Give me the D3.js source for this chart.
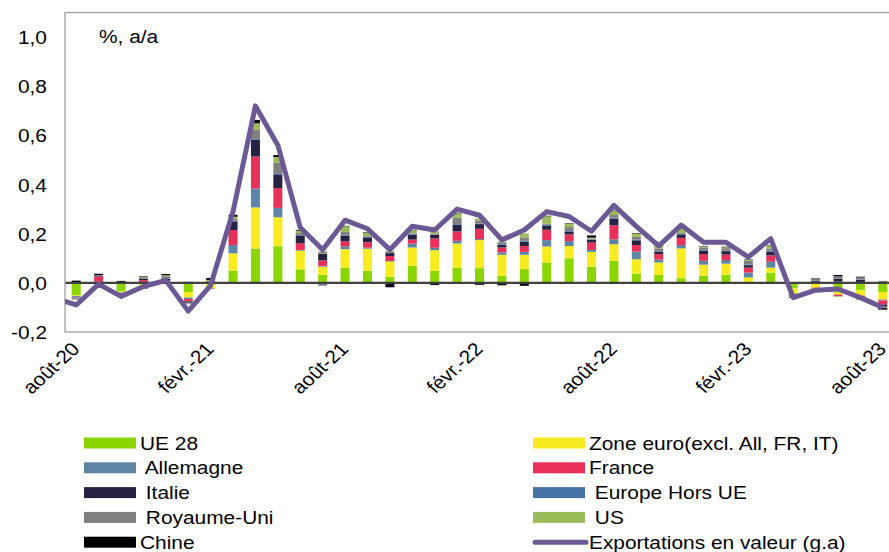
<!DOCTYPE html>
<html>
<head>
<meta charset="utf-8">
<script src="https://cdn.jsdelivr.net/npm/d3@7"></script>
<style>
  body { margin: 0; background: #fff; }
  svg { display: block; font-family: 'Liberation Sans', Arial, sans-serif; }
</style>
</head>
<body>
<div id="chart"></div>
<script>
// Months on the category axis (août-20 .. août-23)
const months = [
  'août-20', 'sept.-20', 'oct.-20', 'nov.-20', 'déc.-20',
  'janv.-21', 'févr.-21', 'mars-21', 'avr.-21', 'mai-21', 'juin-21', 'juil.-21',
  'août-21', 'sept.-21', 'oct.-21', 'nov.-21', 'déc.-21',
  'janv.-22', 'févr.-22', 'mars-22', 'avr.-22', 'mai-22', 'juin-22', 'juil.-22',
  'août-22', 'sept.-22', 'oct.-22', 'nov.-22', 'déc.-22',
  'janv.-23', 'févr.-23', 'mars-23', 'avr.-23', 'mai-23', 'juin-23', 'juil.-23',
  'août-23'
]
const tickMonths = ['août-20', 'févr.-21', 'août-21', 'févr.-22', 'août-22', 'févr.-23', 'août-23']
const yTicks = [-0.2, 0, 0.2, 0.4, 0.6, 0.8, 1.0]

// Contributions (points of %), one array per zone
const ue28 = [-0.05, -0.005, -0.035, -0.005, -0.004, -0.037, -0.003, 0.05, 0.14, 0.149, 0.055, 0.033,
  0.062, 0.049, 0.025, 0.069, 0.049, 0.062, 0.06, 0.029, 0.056, 0.083, 0.1, 0.065,
  0.089, 0.038, 0.033, 0.019, 0.029, 0.033, 0.003, 0.042, -0.022, -0.002, -0.034, -0.03, -0.037]
const zoneEuro = [-0.003, 0.002, -0.004, -0.015, 0.003, -0.023, -0.02, 0.07, 0.167, 0.118, 0.076, 0.033,
  0.075, 0.09, 0.062, 0.075, 0.084, 0.098, 0.114, 0.085, 0.058, 0.065, 0.05, 0.061,
  0.068, 0.058, 0.05, 0.121, 0.045, 0.045, 0.019, 0.02, -0.022, -0.018, -0.014, -0.022, -0.031]
const allemagne = [-0.004, 0.002, -0.002, 0.003, 0.002, -0.006, 0.002, 0.034, 0.077, 0.038, 0.003, 0.003,
  0.012, 0.004, 0.002, 0.016, 0.01, 0.011, 0.004, 0.01, 0.012, 0.026, 0.02, 0.008,
  0.02, 0.031, 0.012, 0.014, 0.016, 0.015, 0.02, 0.024, -0.004, 0.004, 0.005, 0.003, -0.003]
const france = [-0.003, 0.022, -0.002, 0.008, 0.004, -0.01, -0.002, 0.061, 0.13, 0.08, 0.027, 0.022,
  0.02, 0.022, 0.02, 0.016, 0.038, 0.038, 0.042, 0.02, 0.024, 0.042, 0.027, 0.03,
  0.057, 0.027, 0.022, 0.029, 0.027, 0.022, 0.02, 0.026, -0.004, -0.003, -0.006, -0.013, -0.018]
const italie = [0.003, 0.004, 0.003, 0.005, 0.008, -0.005, 0.004, 0.035, 0.068, 0.054, 0.032, 0.027,
  0.022, 0.02, 0.012, 0.019, 0.014, 0.027, 0.019, 0.011, 0.018, 0.016, 0.011, 0.011,
  0.027, 0.019, 0.01, 0.014, 0.014, 0.014, 0.01, 0.015, 0.002, 0.004, 0.012, 0.009, -0.008]
const europeHorsUe = [-0.004, 0.001, 0.001, -0.004, 0.002, -0.002, 0.001, 0.003, 0.003, 0.004, 0.002, 0.002,
  0.003, 0.002, 0.001, 0.003, 0.002, 0.003, 0.002, 0.002, 0.003, 0.004, 0.003, 0.002,
  0.004, 0.003, 0.002, 0.002, 0.003, 0.002, 0.003, 0.003, -0.002, 0.002, 0.002, 0.002, -0.002]
const royaumeUni = [-0.004, 0.001, -0.002, 0.005, 0.008, -0.002, 0.002, 0.008, 0.037, 0.047, 0.008, -0.012,
  0.013, 0.003, 0.004, 0.004, 0.003, 0.026, 0.011, 0.008, 0.014, 0.004, 0.016, 0.003,
  0.011, 0.011, 0.011, 0.004, 0.01, 0.01, 0.014, 0.01, -0.002, 0.006, 0.008, 0.008, 0.008]
const us = [-0.002, -0.004, -0.002, 0.002, 0.004, -0.002, 0.003, 0.008, 0.027, 0.022, 0.008, 0.004,
  0.023, 0.014, 0.004, 0.012, 0.01, 0.018, 0.01, 0.003, 0.016, 0.031, 0.014, 0.004,
  0.016, 0.014, 0.01, 0.016, 0.003, 0.004, 0.004, 0.01, -0.003, -0.004, -0.003, -0.005, -0.003]
const chine = [0.006, 0.005, 0.004, 0.003, 0.005, 0.004, 0.008, 0.008, 0.014, 0.008, 0.003, 0.002,
  0.002, 0.002, -0.018, 0.002, -0.009, 0.002, -0.008, -0.01, -0.012, 0.002, 0.002, 0.009,
  0.002, 0.002, 0.002, 0.002, 0.002, 0.002, 0.002, 0.002, -0.002, 0.002, 0.005, 0.003, -0.007]

// Exports in value, % y/y (the line starts one month before the bars and is clipped)
const exportMonths = ['juil.-20', ...months]
const exportValues = [-0.06, -0.09, -0.005, -0.055, -0.015, 0.01, -0.115, -0.01, 0.29, 0.72, 0.56, 0.225, 0.135,
  0.255, 0.22, 0.135, 0.23, 0.215, 0.3, 0.275, 0.175, 0.215, 0.29, 0.27, 0.21,
  0.315, 0.23, 0.15, 0.235, 0.165, 0.165, 0.105, 0.18, -0.06, -0.03, -0.025, -0.06, -0.1]

const series = [
  { key: 'ue28', label: 'UE 28', color: '#8cd600', values: ue28 },
  { key: 'zoneEuro', label: 'Zone euro(excl. All, FR, IT)', color: '#f8ec20', values: zoneEuro },
  { key: 'allemagne', label: ' Allemagne', color: '#5e84a6', values: allemagne },
  { key: 'france', label: 'France', color: '#e83058', values: france },
  { key: 'italie', label: ' Italie', color: '#282242', values: italie },
  { key: 'europeHorsUe', label: ' Europe Hors UE', color: '#4672a8', values: europeHorsUe },
  { key: 'royaumeUni', label: ' Royaume-Uni', color: '#808080', values: royaumeUni },
  { key: 'us', label: ' US', color: '#9cbc59', values: us },
  { key: 'chine', label: 'Chine', color: '#000000', values: chine }
]
const lineLabel = 'Exportations en valeur (g.a)'
const lineColor = '#6c5894'

const width = 889
const height = 552
const plot = { left: 65, right: 894, top: 12.5, bottom: 332 }
const fontSize = 18.5
const sx = 1.13 // the source picture is a little stretched horizontally

const frFormat = d3.formatLocale({ decimal: ',', thousands: ' ', grouping: [3], currency: ['', ' €'], minus: '-' })
  .format('.1f')

// Scales: category index -> x, value -> y
const x = d3.scaleLinear()
  .domain([-0.5, months.length - 0.5])
  .range([plot.left, plot.right])
const y = d3.scaleLinear()
  .domain([-0.2, 1.1])
  .range([plot.bottom, plot.top])
const barWidth = 9

// Rows for the stack
const rows = months.map((m, i) => {
  const row = { month: m, index: i }
  series.forEach(s => { row[s.key] = s.values[i] })
  return row
})
const stacked = d3.stack()
  .keys(series.map(s => s.key))
  .offset(d3.stackOffsetDiverging)(rows)

const svg = d3.select('#chart')
  .append('svg')
  .attr('width', width)
  .attr('height', height)
  .attr('viewBox', [0, 0, width, height])

svg.append('rect').attr('width', width).attr('height', height).attr('fill', '#fff')

svg.append('clipPath')
  .attr('id', 'plot-clip')
  .append('rect')
  .attr('x', plot.left)
  .attr('y', plot.top)
  .attr('width', plot.right - plot.left)
  .attr('height', plot.bottom - plot.top)

// Stacked bars
svg.append('g')
  .selectAll('g')
  .data(stacked)
  .join('g')
  .attr('fill', (d, i) => series[i].color)
  .selectAll('rect')
  .data(d => d)
  .join('rect')
  .attr('x', d => x(d.data.index) - barWidth / 2)
  .attr('width', barWidth)
  .attr('y', d => y(Math.max(d[0], d[1])))
  .attr('height', d => Math.abs(y(d[0]) - y(d[1])))

// Zero line
svg.append('line')
  .attr('x1', plot.left)
  .attr('x2', plot.right)
  .attr('y1', y(0))
  .attr('y2', y(0))
  .attr('stroke', '#404040')
  .attr('stroke-width', 2.3)

// Plot area border
svg.append('rect')
  .attr('x', plot.left)
  .attr('y', plot.top)
  .attr('width', plot.right - plot.left)
  .attr('height', plot.bottom - plot.top)
  .attr('fill', 'none')
  .attr('stroke', '#a0a0a0')
  .attr('stroke-width', 1.3)

// Exports line
const exportLine = d3.line()
  .x((d, i) => x(i - 1))
  .y(d => y(d))
svg.append('path')
  .datum(exportValues)
  .attr('clip-path', 'url(#plot-clip)')
  .attr('fill', 'none')
  .attr('stroke', lineColor)
  .attr('stroke-width', 5)
  .attr('stroke-linejoin', 'round')
  .attr('d', exportLine)

// Y axis
svg.append('g')
  .attr('transform', `translate(${plot.left},0)`)
  .call(d3.axisLeft(y).tickValues(yTicks).tickSize(0).tickFormat(frFormat))
  .call(g => g.select('.domain').remove())
  .call(g => g.selectAll('.tick text')
    .attr('x', 0)
    .attr('dy', '0.35em')
    .attr('transform', `translate(-18,0) scale(${sx},1)`)
    .attr('font-size', fontSize)
    .attr('font-family', null)
    .attr('fill', '#000'))

// X axis, one label every six months
svg.append('g')
  .attr('transform', `translate(0,${plot.bottom})`)
  .call(d3.axisBottom(x)
    .tickValues(tickMonths.map(m => months.indexOf(m)))
    .tickSize(0)
    .tickFormat(i => months[i]))
  .call(g => g.select('.domain').remove())
  .call(g => g.selectAll('.tick text')
    .attr('x', 0)
    .attr('y', 0)
    .attr('dy', 0)
    .attr('text-anchor', 'end')
    .attr('transform', `translate(4,18) scale(${sx},1) rotate(-46)`)
    .attr('font-size', fontSize)
    .attr('font-family', null)
    .attr('fill', '#000'))

// Unit label
svg.append('text')
  .attr('transform', `translate(99,43) scale(${sx},1)`)
  .attr('font-size', fontSize)
  .text('%, a/a')

// Legend, two columns filled row by row
const legendItems = series.map(s => ({ label: s.label, color: s.color, line: false }))
  .concat([{ label: lineLabel, color: lineColor, line: true }])
const legendCols = [84, 533]
const legendTop = 443
const legendStep = 24.8

const legend = svg.append('g')
  .selectAll('g')
  .data(legendItems)
  .join('g')
  .attr('transform', (d, i) => `translate(${legendCols[i % 2]},${legendTop + Math.floor(i / 2) * legendStep})`)

legend.filter(d => !d.line)
  .append('rect')
  .attr('x', 0)
  .attr('y', -5.5)
  .attr('width', 52)
  .attr('height', 11)
  .attr('fill', d => d.color)

legend.filter(d => d.line)
  .append('line')
  .attr('x1', 2)
  .attr('x2', 53)
  .attr('stroke', d => d.color)
  .attr('stroke-width', 5)
  .attr('stroke-linecap', 'round')

legend.append('text')
  .attr('transform', `translate(56,6.5) scale(${sx},1)`)
  .attr('font-size', fontSize)
  .style('white-space', 'pre')
  .text(d => d.label)
</script>
</body>
</html>
